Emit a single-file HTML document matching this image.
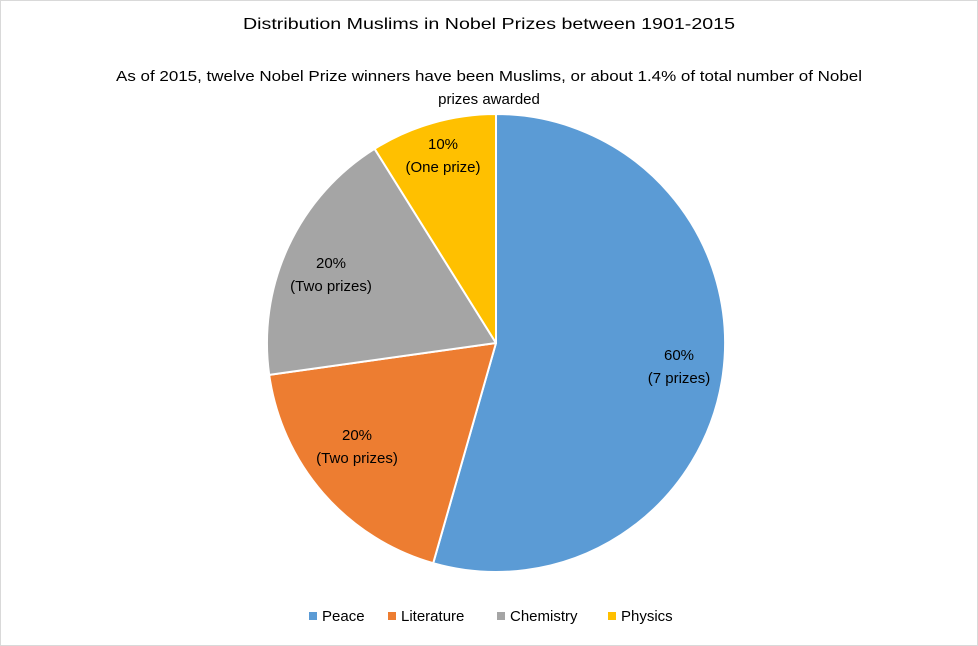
<!DOCTYPE html>
<html><head><meta charset="utf-8"><style>
html,body{margin:0;padding:0;background:#fff;}
svg{display:block;font-family:"Liberation Sans",sans-serif;}
</style></head><body>
<svg width="978" height="646" viewBox="0 0 978 646">
<rect x="0.5" y="0.5" width="977" height="645" fill="#fff" stroke="#d9d9d9"/>
<text x="243" y="29" font-size="16" fill="#000" textLength="492" lengthAdjust="spacingAndGlyphs">Distribution Muslims in Nobel Prizes between 1901-2015</text>
<text x="116" y="81" font-size="15" fill="#000" textLength="746" lengthAdjust="spacingAndGlyphs">As of 2015, twelve Nobel Prize winners have been Muslims, or about 1.4% of total number of Nobel</text>
<text x="489" y="104" text-anchor="middle" font-size="15" fill="#000">prizes awarded</text>
<g stroke="#fff" stroke-width="2" stroke-linejoin="round">
<path d="M496,343 L496,114 A229,229 0 1,1 433.2,563.2 Z" fill="#5b9bd5"/>
<path d="M496,343 L433.2,563.2 A229,229 0 0,1 269.2,374.9 Z" fill="#ed7d31"/>
<path d="M496,343 L269.2,374.9 A229,229 0 0,1 374.6,148.8 Z" fill="#a5a5a5"/>
<path d="M496,343 L374.6,148.8 A229,229 0 0,1 496,114 Z" fill="#ffc000"/>
</g>
<g font-size="15" fill="#000" text-anchor="middle">
<text x="679" y="360">60%</text><text x="679" y="383">(7 prizes)</text>
<text x="357" y="440">20%</text><text x="357" y="463">(Two prizes)</text>
<text x="331" y="268">20%</text><text x="331" y="291">(Two prizes)</text>
<text x="443" y="149">10%</text><text x="443" y="172">(One prize)</text>
</g>
<g font-size="15" fill="#000">
<rect x="309" y="612" width="8" height="8" fill="#5b9bd5"/><text x="322" y="621">Peace</text>
<rect x="388" y="612" width="8" height="8" fill="#ed7d31"/><text x="401" y="621">Literature</text>
<rect x="497" y="612" width="8" height="8" fill="#a5a5a5"/><text x="510" y="621">Chemistry</text>
<rect x="608" y="612" width="8" height="8" fill="#ffc000"/><text x="621" y="621">Physics</text>
</g>
</svg>
</body></html>
